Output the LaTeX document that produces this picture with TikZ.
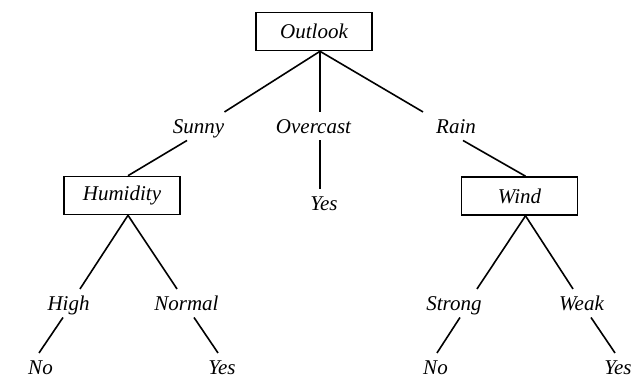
\documentclass[tikz,border=0pt]{standalone}
\usepackage{fontspec}
\setmainfont{Liberation Serif}
\begin{document}
\begin{tikzpicture}[
  x=0.5pt, y=-0.5pt,
  font=\fontsize{10.5}{12}\selectfont\itshape,
  line width=0.8pt,
  attr/.style={draw, minimum width=58pt, minimum height=19pt, inner sep=0pt},
  val/.style={anchor=base, text height=6.8pt, text depth=0pt}
]
\useasboundingbox (0,0) rectangle (633,376);

% attribute boxes
\node [attr] (outlook) at (314,31.5) {Outlook};
\node [attr] (humidity) at (122,195.5) {Humidity};
\node [attr] (wind) at (519.5,196) {Wind};

% branch values and leaves
\node [val] (sunny) at (198.5,133) {Sunny};
\node [val] (overcast) at (313.5,133) {Overcast};
\node [val] (rain) at (456,133) {Rain};
\node [val] (yesO) at (324,210) {Yes};
\node [val] (high) at (68.5,310) {High};
\node [val] (normal) at (186.5,310) {Normal};
\node [val] (strong) at (454,310) {Strong};
\node [val] (weak) at (581.5,310) {Weak};
\node [val] (noH) at (40.5,374) {No};
\node [val] (yesN) at (222,374) {Yes};
\node [val] (noS) at (435.5,374) {No};
\node [val] (yesW) at (618,374) {Yes};

\coordinate (o1) at ([xshift=3pt]outlook.south);
\coordinate (h1) at ([xshift=3pt]humidity.south);
\coordinate (w1) at ([xshift=3pt]wind.south);

\draw (o1) -- ([xshift=13pt]sunny.north);
\draw (o1) -- (o1 |- overcast.north);
\draw (o1) -- ([xshift=-16.5pt]rain.north);
\draw ([xshift=-5.75pt]sunny.south) -- ([xshift=3pt]humidity.north);
\draw (o1 |- overcast.south) -- (o1 |- yesO.north);
\draw ([xshift=3.5pt]rain.south) -- ([xshift=3pt]wind.north);

\draw (h1) -- ([xshift=5.75pt]high.north);
\draw (h1) -- ([xshift=-4.75pt]normal.north);
\draw (w1) -- ([xshift=11.5pt]strong.north);
\draw (w1) -- ([xshift=-4.25pt]weak.north);

\draw ([xshift=-2.75pt]high.south) -- ([xshift=-0.75pt]noH.north);
\draw ([xshift=3.75pt]normal.south) -- ([xshift=-2pt]yesN.north);
\draw ([xshift=3pt]strong.south) -- ([xshift=0.75pt]noS.north);
\draw ([xshift=4.75pt]weak.south) -- ([xshift=-1.5pt]yesW.north);
\end{tikzpicture}
\end{document}
